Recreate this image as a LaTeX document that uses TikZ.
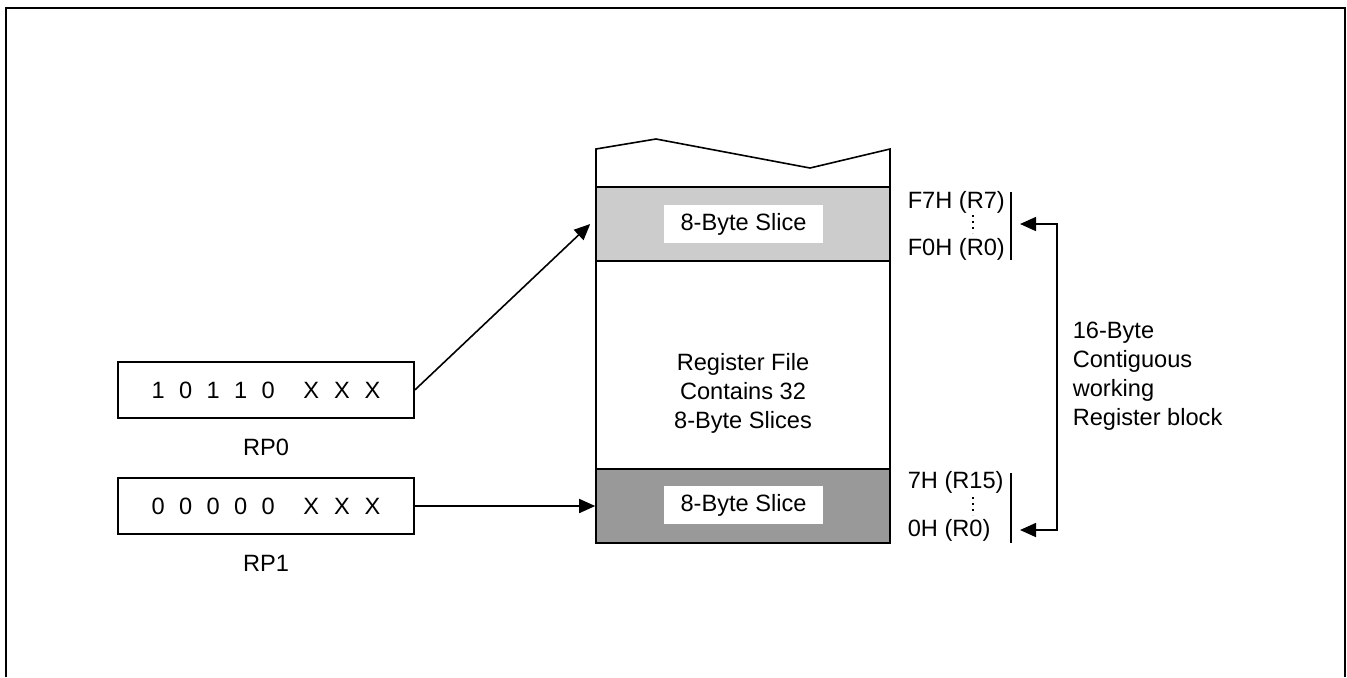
\documentclass[tikz,border=0pt]{standalone}
\usepackage{fontspec}
\setmainfont{Liberation Sans}
\usetikzlibrary{arrows.meta}
\newcommand\bgap{\hspace{7.2pt}}
\newcommand\xgap{\hspace{14.3pt}}
\begin{document}
\begin{tikzpicture}[x=0.5pt,y=-0.5pt,line width=0.8pt,
        every node/.style={font=\fontsize{11.8}{14.5}\selectfont},
        tip/.style={-{Triangle[length=8pt,width=7pt]}},
        dots/.style={dash pattern=on 0.8pt off 2.2pt,line width=0.8pt},
        regbox/.style={draw,minimum width=148pt,minimum height=28pt,inner sep=0pt},
        slice/.style={draw,minimum width=147pt,minimum height=37pt,inner sep=0pt},
        tag/.style={fill=white,minimum width=79.5pt,minimum height=19pt,inner sep=0pt}]
        \useasboundingbox (0,0) rectangle (1347,677);
        \draw (6,677) -- (6,8) -- (1345,8) -- (1345,677);
        \draw (596,543) -- (596,149) -- (656,139) -- (810,168) -- (890,149) -- (890,543);
        \node[slice,fill=black!20] (hi) at (743,224) {};
        \node[slice,fill=black!40] (lo) at (743,506) {};
        \node[tag] (hitag) at (743.5,224) {8-Byte Slice};
        \node[tag] (lotag) at (743.5,505) {8-Byte Slice};
        \node[align=center] (file) at (743,393)
            {Register File\\Contains 32\\8-Byte Slices};
        \node[regbox] (rp0) at (266,390)
            {1\bgap0\bgap1\bgap1\bgap0\xgap X\hspace{7.4pt}X\hspace{7.4pt}X};
        \node[regbox] (rp1) at (266,506)
            {0\bgap0\bgap0\bgap0\bgap0\xgap X\hspace{7.4pt}X\hspace{7.4pt}X};
        \node (rp0lbl) at (266,447) {RP0};
        \node (rp1lbl) at (266,563) {RP1};
        \draw[tip] (rp0.east) -- ([xshift=-2.5pt]hi.west);
        \draw[tip] (rp1.east) -- (lo.west);
        \node[anchor=west,inner sep=0pt] (f7) at (907,202) {F7H (R7)};
        \node[anchor=west,inner sep=0pt] (f0) at (907,249) {F0H (R0)};
        \node[anchor=west,inner sep=0pt] (h7) at (907,482) {7H (R15)};
        \node[anchor=west,inner sep=0pt] (h0) at (907,530) {0H (R0)};
        \draw[dots] (973,215) -- (973,233);
        \draw[dots] (973,497) -- (973,515);
        \draw (1011,192) -- (1011,260);
        \draw (1011,473) -- (1011,543);
        \coordinate (ua) at (1020,224);
        \coordinate (la) at (1020,530);
        \draw[{Triangle[length=8pt,width=7pt]}-{Triangle[length=8pt,width=7pt]}]
            (ua) -- ++(37,0) |- (la);
        \node[anchor=west,align=left,inner sep=0pt] (blk) at (1072,376)
            {16-Byte\\Contiguous\\working\\Register block};
    \end{tikzpicture}
\end{document}
